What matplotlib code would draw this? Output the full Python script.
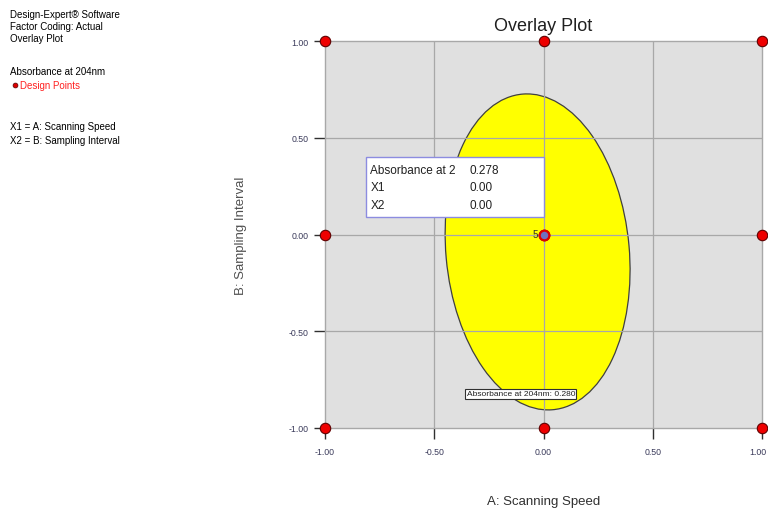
import numpy as np
import matplotlib.pyplot as plt
import matplotlib.transforms as mtransforms
from matplotlib.patches import Ellipse, Rectangle

plt.rcParams['font.family'] = ['Liberation Sans Narrow', 'Liberation Sans', 'DejaVu Sans']

# design points (coded factor levels)
x1_levels = [-1.0, 0.0, 1.0]
x2_levels = [-1.0, 0.0, 1.0]
center_run = 5

# overlay region for Absorbance at 204nm (contour 0.280)
region_center = (-0.027, -0.09)
region_width = 0.839
region_height = 1.637
region_angle = 4.6
contour_value = 0.280

# point readout at the design center
readout_names = ['Absorbance at 2', 'X1', 'X2']
readout_values = ['0.278', '0.00', '0.00']

ticks = [-1.0, -0.5, 0.0, 0.5, 1.0]
tick_labels = ['-1.00', '-0.50', '0.00', '0.50', '1.00']

fig = plt.figure(figsize=(7.68, 5.10), dpi=100)
ax = fig.add_axes([325 / 768, 81 / 510, 437 / 768, 387 / 510])
ax.set_facecolor('#E0E0E0')
ax.set_xlim(-1, 1)
ax.set_ylim(-1, 1)

# yellow overlay region
ell = Ellipse(region_center, region_width, region_height, angle=region_angle,
              facecolor='#FFFF00', edgecolor='#404040', lw=0.9, zorder=1)
ax.add_patch(ell)

# grid drawn on top of the region
for g in [-0.5, 0.0, 0.5]:
    ax.axvline(g, color='#A8A8A8', lw=0.9, zorder=2)
    ax.axhline(g, color='#A8A8A8', lw=0.9, zorder=2)

for s in ax.spines.values():
    s.set_color('#A8A8A8')
    s.set_linewidth(1.0)

ax.set_xticks(ticks)
ax.set_yticks(ticks)
ax.set_xticklabels(tick_labels)
ax.set_yticklabels(tick_labels)
ax.tick_params(axis='both', direction='out', length=8, width=1.0, color='#303030',
               labelsize=6.3, labelcolor='#3A3A5A', pad=6)
ax.tick_params(axis='y', pad=4)

# nudge the last x label so it stays on the canvas
last = ax.get_xticklabels()[-1]
last.set_transform(last.get_transform() +
                   mtransforms.ScaledTranslation(-4 / 100, 0, fig.dpi_scale_trans))

# readout box
bx0, by0, bx1, by1 = -0.812, 0.09, 0.0, 0.40
ax.add_patch(Rectangle((bx0, by0), bx1 - bx0, by1 - by0, facecolor='white',
                       edgecolor='#8C8CE0', lw=1.0, zorder=4))
row_y = [0.335, 0.248, 0.155]
for name, val, yy in zip(readout_names, readout_values, row_y):
    ax.text(bx0 + 0.02, yy, name, fontsize=8.5, family=['Liberation Sans', 'DejaVu Sans'],
            color='#202020', va='center', ha='left', zorder=5)
    ax.text(bx0 + 0.475, yy, val, fontsize=8.5, family=['Liberation Sans', 'DejaVu Sans'],
            color='#202020', va='center', ha='left', zorder=5)

# contour label
ax.text(-0.103, -0.824, f'Absorbance at 204nm: {contour_value:.3f}', fontsize=6,
        ha='center', va='center', color='#202020', zorder=5,
        bbox=dict(boxstyle='square,pad=0.15', facecolor='white', edgecolor='#303030', lw=0.8))

# design points
gx, gy = np.meshgrid(x1_levels, x2_levels)
ax.plot(gx.ravel(), gy.ravel(), 'o', ms=7.5, mfc='#EE0000', mec='#600000', mew=0.8,
        clip_on=False, zorder=6)
ax.plot([0.0], [0.0], 'o', ms=7, mfc='#7070C0', mec='#DD0000', mew=1.6, zorder=7)
ax.text(-0.025, 0.0, str(center_run), fontsize=7, ha='right', va='center',
        color='#303030', zorder=7)

ax.set_title('Overlay Plot', fontsize=13, family=['Liberation Sans', 'DejaVu Sans'],
             color='#202020', pad=8)
ax.set_xlabel('A: Scanning Speed', fontsize=9.5, family=['Liberation Sans', 'DejaVu Sans'],
              color='#303030', labelpad=28)
ax.set_ylabel('B: Sampling Interval', fontsize=9.5, family=['Liberation Sans', 'DejaVu Sans'],
              color='#505050', labelpad=30)

# side panel text
side = [(15, 'Design-Expert\u00ae Software', 'black'),
        (27, 'Factor Coding: Actual', 'black'),
        (39, 'Overlay Plot', 'black'),
        (72, 'Absorbance at 204nm', 'black'),
        (127, 'X1 = A: Scanning Speed', 'black'),
        (141, 'X2 = B: Sampling Interval', 'black')]
for py, txt, c in side:
    fig.text(10 / 768, 1 - py / 510, txt, fontsize=7, color=c, va='center', ha='left')
fig.text(20 / 768, 1 - 86 / 510, 'Design Points', fontsize=7, color='#FF2020',
         va='center', ha='left')
fig.add_artist(plt.Line2D([15 / 768], [1 - 86 / 510], marker='o', ms=3.5,
                          mfc='#DD0000', mec='#500000', mew=0.5, transform=fig.transFigure))

fig.savefig('out.png', dpi=100)
